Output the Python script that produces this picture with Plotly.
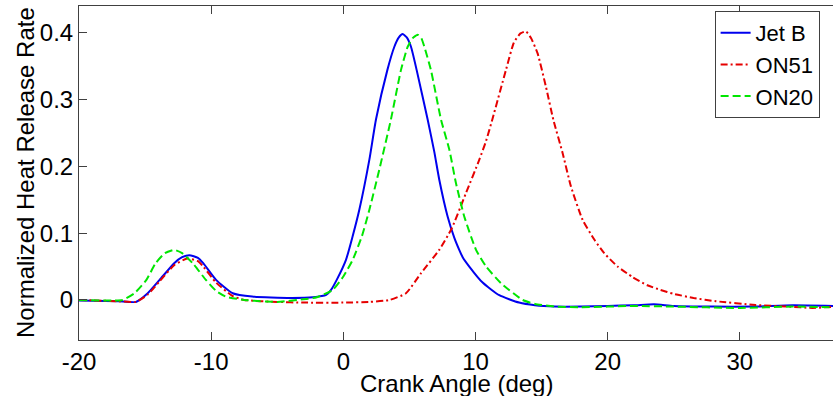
import plotly.graph_objects as go

# ---- data ----
jetb_x = [-20, -17, -15.7, -14.8, -13.9, -12.8, -12.2, -11.65, -11.0, -10.6, -9.63, -8.37, -6.9, -4, -2.3,
          -1.3, -0.93, -0.5, 0.2, 0.7, 1.21, 1.97, 2.47, 3.33, 3.86, 4.2, 4.49, 4.8, 5.12, 5.55, 6.38, 6.88,
          7.26, 7.89, 8.4, 8.77, 9.03, 9.53, 10.54, 11.8, 13.3, 14.5, 16, 18, 20, 22, 23.5, 25, 28, 31, 34, 37.2]
jetb_y = [-0.001, -0.002, -0.003, 0.01, 0.03, 0.055, 0.064, 0.067, 0.063, 0.055, 0.03, 0.01, 0.005, 0.003, 0.004,
          0.0075, 0.015, 0.03, 0.06, 0.095, 0.135, 0.21, 0.27, 0.344, 0.379, 0.393, 0.398, 0.393, 0.379, 0.344, 0.27, 0.222,
          0.18, 0.125, 0.093, 0.075, 0.064, 0.05, 0.026, 0.007, -0.004, -0.008, -0.01, -0.01, -0.009, -0.008, -0.0065,
          -0.009, -0.01, -0.01, -0.008, -0.009]

on51_x = [-20, -17, -15.7, -14.8, -13.9, -12.8, -11.8, -11.0, -10.6, -9.63, -8.4, -7.5, -5, -3, 0, 2, 3.5,
          4.74, 5.88, 7.26, 8.2, 9.28, 10.29, 10.8, 11.3, 12.3, 12.9, 13.4, 13.82, 14.2, 14.7, 15.33, 15.9,
          16.59, 17.22, 18.1, 19.0, 19.74, 20.75, 21.9, 23.0, 24.0, 25.0, 26.5, 28.2, 31.2, 33.7, 35.5, 37.2]
on51_y = [0.0, -0.002, -0.003, 0.008, 0.028, 0.052, 0.062, 0.058, 0.05, 0.026, 0.006, 0.0, -0.003, -0.004, -0.004,
          -0.003, 0.0, 0.01, 0.04, 0.075, 0.107, 0.16, 0.21, 0.238, 0.272, 0.344, 0.385, 0.399, 0.402, 0.392, 0.369,
          0.319, 0.269, 0.22, 0.17, 0.12, 0.09, 0.07, 0.05, 0.034, 0.022, 0.015, 0.009, 0.003, -0.002, -0.0075,
          -0.01, -0.012, -0.01]

on20_x = [-20, -17.5, -16.7, -15.8, -14.9, -14.2, -13.5, -12.8, -12.2, -11.4, -10.4, -9.6, -8.9, -7.5, -5, -3, -2,
          -0.8, 0.0, 0.71, 1.4, 1.97, 2.72, 3.6, 4.36, 4.87, 5.25, 5.62, 5.9, 6.13, 6.63, 7.39, 8.02, 8.52, 9.15,
          10.04, 10.8, 11.93, 13.56, 14.5, 16, 18, 22, 25, 30, 34, 37.2]
on20_y = [0.0, -0.001, 0.0, 0.01, 0.03, 0.055, 0.07, 0.075, 0.07, 0.055, 0.03, 0.013, 0.005, 0.0, -0.003, 0.001, 0.004,
          0.015, 0.035, 0.06, 0.095, 0.135, 0.195, 0.27, 0.344, 0.379, 0.392, 0.397, 0.392, 0.379, 0.344, 0.27, 0.225,
          0.175, 0.125, 0.075, 0.05, 0.025, 0.0, -0.006, -0.01, -0.011, -0.009, -0.01, -0.012, -0.01, -0.011]

x_ticks = [-20, -10, 0, 10, 20, 30]
x_tick_text = ["-20", "-10", "0", "10", "20", "30"]
y_ticks = [0, 0.1, 0.2, 0.3, 0.4]
y_tick_text = ["0", "0.1", "0.2", "0.3", "0.4"]

FONT = "Liberation Sans, Arial, sans-serif"

fig = go.Figure()
fig.add_trace(go.Scatter(x=jetb_x, y=jetb_y, mode="lines", name="Jet B",
                         line=dict(color="#0000EE", width=2, shape="spline", smoothing=0.5)))
fig.add_trace(go.Scatter(x=on51_x, y=on51_y, mode="lines", name="ON51",
                         line=dict(color="#E60000", width=2, dash="7px,3px,2px,3px", shape="spline", smoothing=0.5)))
fig.add_trace(go.Scatter(x=on20_x, y=on20_y, mode="lines", name="ON20",
                         line=dict(color="#00E600", width=2, dash="8px,4px", shape="spline", smoothing=0.5)))

axis_common = dict(
    showgrid=False, zeroline=False, showline=True, linecolor="#404040", linewidth=1,
    ticks="inside", ticklen=8, tickcolor="#404040", tickwidth=1, automargin=False,
    tickfont=dict(family=FONT, size=24, color="black"),
)

fig.update_layout(
    width=833, height=396,
    margin=dict(l=79, r=0, t=6, b=56),
    paper_bgcolor="white", plot_bgcolor="white",
    font=dict(family=FONT, size=24, color="black"),
    xaxis=dict(range=[-20, 37.05], tickvals=x_ticks, ticktext=x_tick_text, mirror="ticks", **axis_common),
    yaxis=dict(range=[-0.06, 0.44], tickvals=y_ticks, ticktext=y_tick_text, **axis_common),
    legend=dict(x=0.843, y=0.985, xanchor="left", yanchor="top",
                bgcolor="white", bordercolor="#404040", borderwidth=1,
                font=dict(family=FONT, size=22, color="black"),
                tracegroupgap=0, itemwidth=30),
    showlegend=True,
    annotations=[
        dict(text="Crank Angle (deg)", xref="paper", yref="paper", x=0.5, y=-0.131,
             xanchor="center", yanchor="middle", showarrow=False,
             font=dict(family=FONT, size=24, color="black")),
        dict(text="Normalized Heat Release Rate", xref="paper", yref="paper", x=-0.0716, y=0.5,
             xanchor="center", yanchor="middle", textangle=-90, showarrow=False,
             font=dict(family=FONT, size=24, color="black")),
    ],
)

fig.write_html("out.html", config={"displayModeBar": False},
               post_script="document.body.style.margin='0';document.body.style.padding='0';"
                           "document.body.style.overflow='hidden';")
